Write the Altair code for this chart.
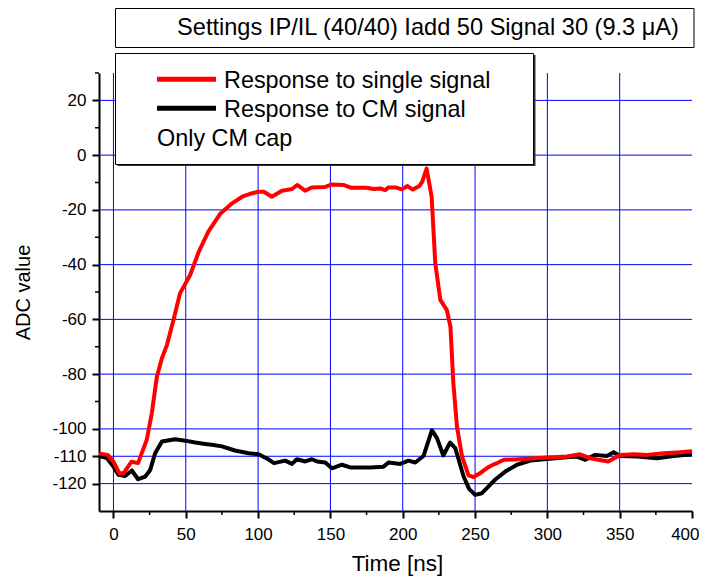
import altair as alt
import pandas as pd

# ---------------- data ----------------
red_t = [-10, -4, 0, 4, 7, 12.5, 17, 23, 26.5, 30, 33.5, 37, 41.5, 46, 53, 59, 65.5, 74, 82,
         89, 95.5, 100, 104, 109.5, 116.5, 123.5, 127, 132.5, 137, 146.5, 151, 159, 164, 175,
         180, 184.5, 188, 190, 195, 199.5, 203, 207, 211.5, 213.5, 216.5, 220, 222.5, 226,
         230.5, 233, 235, 237.5, 241, 245.5, 249, 254, 258, 262, 266, 270, 283.5, 300, 313.5,
         322.5, 329.5, 342, 350.5, 360, 369, 380.5, 392, 400]
red_v = [-109, -109.5, -112, -116.2, -116.2, -112, -112.5, -104, -94.3, -81, -74.2, -69.3,
         -60.2, -50.5, -43.8, -35.3, -28, -21.3, -17.6, -15.2, -14, -13.4, -13.4, -15.2, -13,
         -12.4, -10.9, -13, -11.8, -11.6, -10.7, -10.9, -11.9, -11.9, -12.4, -12.2, -12.8,
         -11.8, -11.8, -12.5, -11.3, -12.6, -11.3, -9.7, -4.9, -15.2, -39.5, -52.9, -56.6,
         -62.7, -83.3, -99.2, -110.1, -117, -117.6, -116, -114.4, -113.2, -112.3, -111.3,
         -111, -110.5, -110.1, -109.3, -110.7, -111.9, -109.5, -109.3, -109.5, -108.9,
         -108.5, -108.2]

black_t = [-10, -4.5, 0, 3.5, 8, 12.7, 17, 22, 25.4, 28.8, 33.5, 42.7, 49.6, 56.5, 63.4, 68,
           75, 84, 93.4, 100.3, 107, 111, 118.7, 123.4, 126.8, 132.6, 137.2, 140.7, 146.4,
           151, 158, 163.7, 177.5, 186.7, 190.2, 198.3, 204, 208.6, 214.4, 220.2, 223.7, 228,
           232.8, 236.3, 242.1, 246, 250.1, 254.8, 260.5, 264, 270.9, 279, 288.2, 299.7,
           313.5, 320.5, 326.2, 333.1, 341.2, 345.8, 350.4, 361.9, 375.8, 387.3, 400]
black_v = [-109.9, -110.7, -113.8, -116.8, -117.2, -115.2, -118.4, -117.4, -115, -108.9,
           -104.6, -103.8, -104.3, -105, -105.5, -105.8, -106.4, -107.9, -108.9, -109.3,
           -111.1, -112.5, -111.6, -112.8, -111.1, -111.9, -111.1, -111.9, -112.3, -114.4,
           -113.1, -114.1, -114.1, -113.8, -112.3, -112.8, -111.6, -112.3, -109.9, -100.5,
           -103.4, -109.7, -105, -107, -117.4, -122, -124.1, -123.5, -120.4, -118.5, -115.6,
           -113.1, -111.6, -111, -110.4, -110.1, -111.3, -109.5, -109.9, -108.5, -109.9,
           -110.1, -110.7, -109.9, -109.3]

x_major = [0, 50, 100, 150, 200, 250, 300, 350, 400]
x_minor = [25, 75, 125, 175, 225, 275, 325, 375]
x_grid = [0, 50, 100, 150, 200, 250, 300, 350]
y_major = [20, 0, -20, -40, -60, -80, -100, -110, -120]
y_minor = [30, 10, -10, -30, -50, -70, -90]
y_grid = [20, 0, -20, -40, -60, -80, -100, -110, -120]

title_text = "Settings IP/IL (40/40) Iadd 50 Signal 30 (9.3 \u03bcA)"
legend_labels = ["Response to single signal", "Response to CM signal"]
legend_note = "Only CM cap"
x_title = "Time [ns]"
y_title = "ADC value"

# ---------------- chart ----------------
FONT = "Liberation Sans"
W, H = 593, 438
xs = alt.Scale(domain=[-10, 400], nice=False, zero=False)
ys = alt.Scale(domain=[-130, 30], nice=False, zero=False)

xaxis = alt.Axis(values=x_major, grid=False, domainColor="black", domainWidth=2,
                 tickColor="black", tickWidth=2, tickSize=7, labelFont=FONT,
                 labelFontSize=17, labelColor="black", labelPadding=8, labelFlush=True,
                 labelFlushOffset=7, labelOverlap=False, title=x_title, titleFont=FONT,
                 titleFontSize=22.5, titleFontWeight="normal", titleColor="black",
                 titleX=298, titleY=59, titleBaseline="alphabetic", titleAlign="center")
yaxis = alt.Axis(values=y_major, grid=False, domainColor="black", domainWidth=2,
                 tickColor="black", tickWidth=2, tickSize=7, labelFont=FONT,
                 labelFontSize=17, labelColor="black", labelPadding=6, labelFlush=False,
                 labelOverlap=False, labelExpr="datum.value + ''", title=y_title,
                 titleFont=FONT, titleFontSize=20, titleFontWeight="normal",
                 titleColor="black", titleX=-70, titleY=219, titleAngle=-90,
                 titleBaseline="alphabetic", titleAlign="center")

X = lambda f: alt.X(f, scale=xs, axis=xaxis)
Y = lambda f: alt.Y(f, scale=ys, axis=yaxis)

one = pd.DataFrame({"a": [0]})

gx = alt.Chart(pd.DataFrame({"g": x_grid})).mark_rule(color="#0000ff", strokeWidth=1).encode(
    x=X("g:Q"))
gy = alt.Chart(pd.DataFrame({"g": y_grid})).mark_rule(color="#0000ff", strokeWidth=1).encode(
    y=Y("g:Q"))

mx = alt.Chart(pd.DataFrame({"m": x_minor})).mark_rule(color="black", strokeWidth=1.5).encode(
    x=X("m:Q"), y=alt.value(H), y2=alt.value(H + 4))
my = alt.Chart(pd.DataFrame({"m": y_minor})).mark_rule(color="black", strokeWidth=1.5).encode(
    y=Y("m:Q"), x=alt.value(0), x2=alt.value(-4))

black_line = alt.Chart(pd.DataFrame({"t": black_t, "v": black_v})).mark_line(
    color="black", strokeWidth=4, strokeJoin="round").encode(
    x=X("t:Q"), y=Y("v:Q"), order="t:Q")
red_line = alt.Chart(pd.DataFrame({"t": red_t, "v": red_v})).mark_line(
    color="#ff0000", strokeWidth=4, strokeJoin="round").encode(
    x=X("t:Q"), y=Y("v:Q"), order="t:Q")

# title box
tbox = alt.Chart(one).mark_rect(fill="white", stroke="black", strokeWidth=1).encode(
    x=alt.value(16.5), x2=alt.value(595), y=alt.value(-64.5), y2=alt.value(-25.5))
ttext = alt.Chart(one).mark_text(text=title_text, font=FONT, fontSize=23.6, align="center",
                                 baseline="alphabetic", color="black").encode(
    x=alt.value(329), y=alt.value(-38))

# legend box (with shadow)
lshadow = alt.Chart(one).mark_rect(fill="#333333").encode(
    x=alt.value(18.5), x2=alt.value(436.5), y=alt.value(-18), y2=alt.value(93))
lbox = alt.Chart(one).mark_rect(fill="white", stroke="black", strokeWidth=1).encode(
    x=alt.value(16.5), x2=alt.value(434.5), y=alt.value(-19.5), y2=alt.value(91.5))
lline_red = alt.Chart(one).mark_rule(color="#ff0000", strokeWidth=5).encode(
    x=alt.value(58), x2=alt.value(117), y=alt.value(6.3))
lline_blk = alt.Chart(one).mark_rule(color="black", strokeWidth=5).encode(
    x=alt.value(58), x2=alt.value(117), y=alt.value(35.3))
ltxt1 = alt.Chart(one).mark_text(text=legend_labels[0], font=FONT, fontSize=23.4, align="left",
                                 baseline="alphabetic", color="black").encode(
    x=alt.value(125), y=alt.value(15.3))
ltxt2 = alt.Chart(one).mark_text(text=legend_labels[1], font=FONT, fontSize=23.4, align="left",
                                 baseline="alphabetic", color="black").encode(
    x=alt.value(125), y=alt.value(43.7))
ltxt3 = alt.Chart(one).mark_text(text=legend_note, font=FONT, fontSize=23.4, align="left",
                                 baseline="alphabetic", color="black").encode(
    x=alt.value(58), y=alt.value(72.7))

chart = alt.layer(
    gx, gy, mx, my, black_line, red_line,
    tbox, ttext, lshadow, lbox, lline_red, lline_blk, ltxt1, ltxt2, ltxt3
).properties(
    width=W, height=H,
    padding={"left": 91, "top": 65, "right": 7, "bottom": 66},
    autosize=alt.AutoSizeParams(type="none"),
    background="white",
).configure_view(stroke=None)

chart.save("out.html", embed_options={"renderer": "svg", "actions": False})
